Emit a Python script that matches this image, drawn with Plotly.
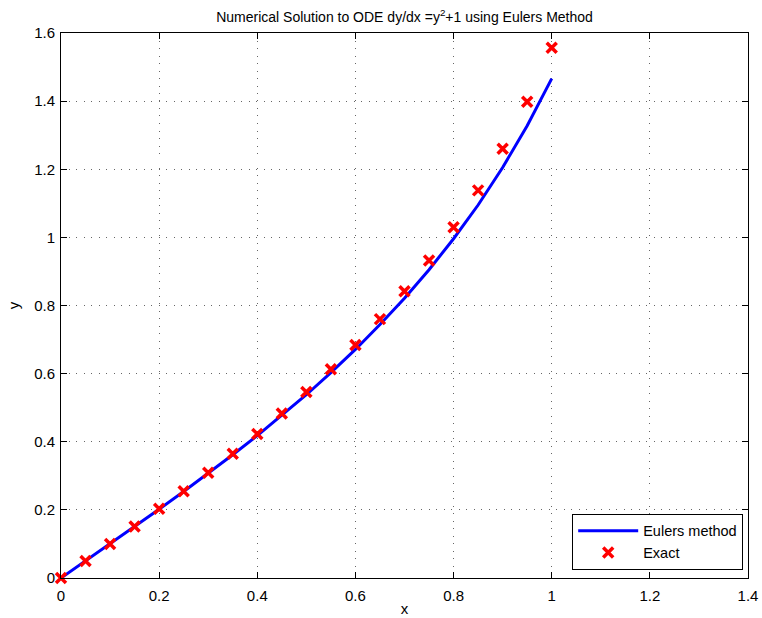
import plotly.graph_objects as go

x_vals = [0.0, 0.05, 0.10, 0.15, 0.20, 0.25, 0.30, 0.35, 0.40, 0.45, 0.50,
          0.55, 0.60, 0.65, 0.70, 0.75, 0.80, 0.85, 0.90, 0.95, 1.00]
euler_y = [0.0, 0.050, 0.100, 0.151, 0.202, 0.254, 0.307, 0.362, 0.418, 0.477, 0.538,
           0.603, 0.671, 0.744, 0.821, 0.905, 0.996, 1.095, 1.205, 1.328, 1.466]
exact_y = [0.0, 0.050, 0.100, 0.151, 0.203, 0.255, 0.309, 0.365, 0.423, 0.483, 0.546,
           0.613, 0.684, 0.760, 0.842, 0.932, 1.030, 1.138, 1.260, 1.398, 1.557]
x_ticks = [0, 0.2, 0.4, 0.6, 0.8, 1.0, 1.2, 1.4]
x_tick_text = ["0", "0.2", "0.4", "0.6", "0.8", "1", "1.2", "1.4"]
y_ticks = [0, 0.2, 0.4, 0.6, 0.8, 1.0, 1.2, 1.4, 1.6]
y_tick_text = ["0", "0.2", "0.4", "0.6", "0.8", "1", "1.2", "1.4", "1.6"]

font = "Liberation Sans, Arial, Helvetica, sans-serif"

fig = go.Figure()
fig.add_trace(go.Scatter(x=x_vals, y=euler_y, mode="lines", name="Eulers method",
                         line=dict(color="#0000ff", width=3)))
fig.add_trace(go.Scatter(x=x_vals, y=exact_y, mode="markers", name="Exact",
                         cliponaxis=False,
                         marker=dict(symbol="x-thin-open", size=10, color="#ff0000",
                                     line=dict(color="#ff0000", width=3.5))))

axis_common = dict(showline=True, linecolor="black", linewidth=1, mirror="ticks",
                   ticks="inside", ticklen=6, tickcolor="black", automargin=False,
                   showgrid=True, gridcolor="#666666", griddash="1px,6.5px", gridwidth=1,
                   zeroline=False, tickfont=dict(size=15, color="black", family=font))

fig.update_layout(
    width=762, height=618,
    margin=dict(l=61, r=14, t=33, b=40),
    paper_bgcolor="white", plot_bgcolor="white",
    font=dict(family=font, size=15, color="black"),
    title=dict(text="Numerical Solution to ODE dy/dx =y<sup>2</sup>+1 using Eulers Method",
               x=0.5, xanchor="center", xref="paper", y=1, yref="container", yanchor="top",
               pad=dict(t=12), font=dict(size=14, color="black")),
    xaxis=dict(range=[0, 1.4], tickvals=x_ticks, ticktext=x_tick_text, ticklabelstandoff=4,
               title=dict(text="x", standoff=0, font=dict(size=15)), **axis_common),
    yaxis=dict(range=[0, 1.6], tickvals=y_ticks, ticktext=y_tick_text, ticklabelstandoff=2,
               title=dict(text="y", standoff=10, font=dict(size=15)), **axis_common),
    legend=dict(x=0.993, y=0.015, xanchor="right", yanchor="bottom",
                bgcolor="white", bordercolor="black", borderwidth=1,
                font=dict(size=14.5, color="black"), tracegroupgap=0, itemwidth=60),
    showlegend=True,
)

fig.write_html("out.html")
